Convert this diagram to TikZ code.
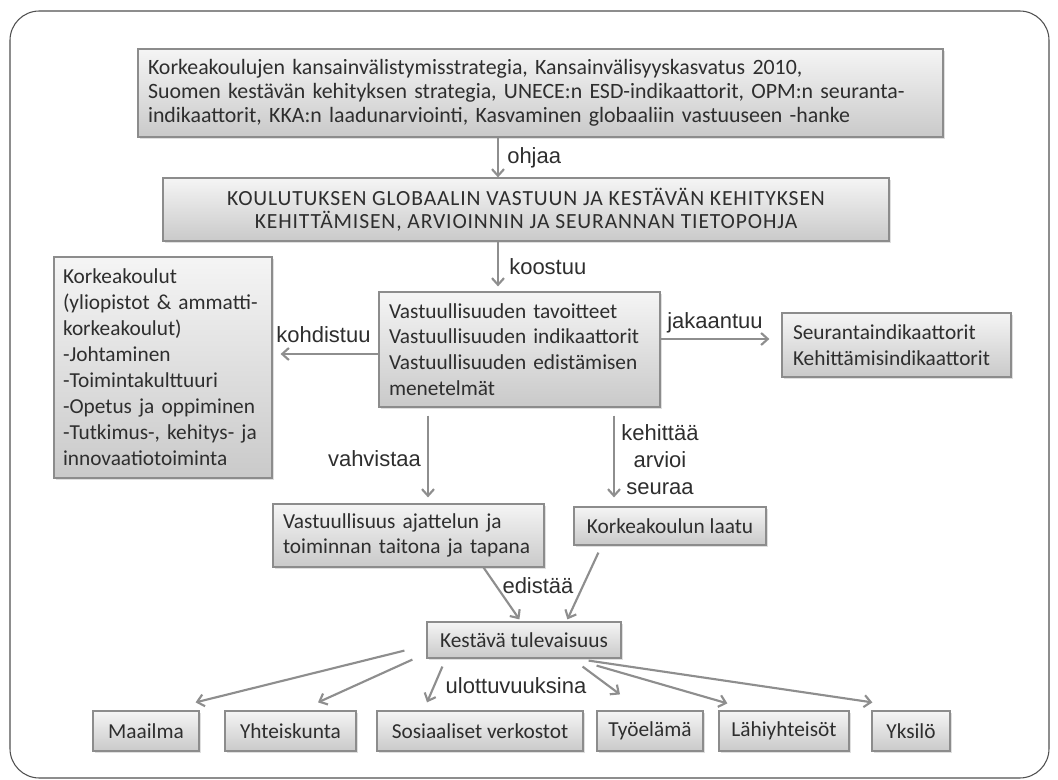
\documentclass[tikz,border=0pt]{standalone}
\usepackage{fontspec}
\setmainfont{Carlito}
\newfontfamily\labfont{Liberation Sans}
\newfontfamily\capsfont[LetterSpace=4]{Carlito}
\usetikzlibrary{arrows.meta,calc,shadows}
\definecolor{textc}{HTML}{2E2E2E}
\definecolor{boxline}{HTML}{8C8C8C}
\definecolor{arrc}{HTML}{8E8E8E}
\definecolor{framec}{HTML}{505050}
\begin{document}
\begin{tikzpicture}[x=0.75pt,y=-0.75pt,
  box/.style={draw=boxline, line width=0.9pt, top color=black!4, bottom color=black!21,
    drop shadow={shadow xshift=1.2pt,shadow yshift=-1.2pt,opacity=0.25},
    font=\fontsize{16}{19.3}\selectfont, text=textc, inner ysep=0pt},
  lbox/.style={box, align=left},
  cbox/.style={box, align=center, inner xsep=0pt},
  arr/.style={draw=arrc, line width=1.6pt, -{Straight Barb[length=5pt,width=9pt]}},
  lab/.style={font=\labfont\fontsize{16.5}{20.2}\selectfont, text=textc, inner sep=0pt}
]
\useasboundingbox (0,0) rectangle (1058,780);
\draw[framec, line width=0.8pt, rounded corners=22pt] (10,11) rectangle (1049,778);

% boxes
\node[lbox, text width=588.75pt, inner xsep=7.5pt, minimum height=66pt,
      font=\fontsize{16.4}{18.2}\selectfont] (top) at (540.5,93)
 {Korkeakoulujen kansainvälistymisstrategia, Kansainvälisyyskasvatus 2010,\\
  Suomen kestävän kehityksen strategia, UNECE:n ESD-indikaattorit, OPM:n seuranta-\\
  indikaattorit, KKA:n laadunarviointi, Kasvaminen globaaliin vastuuseen -hanke};
\node[cbox, minimum width=544.5pt, minimum height=47.25pt,
      font=\capsfont\fontsize{16.2}{17.6}\selectfont] (tieto) at (526,209.5)
 {KOULUTUKSEN GLOBAALIN VASTUUN JA KESTÄVÄN KEHITYKSEN\\
  KEHITTÄMISEN, ARVIOINNIN JA SEURANNAN TIETOPOHJA};
\node[lbox, text width=150pt, inner xsep=6.75pt, minimum height=165.75pt,
      font=\fontsize{16}{19.5}\selectfont] (korkea) at (163,367.5)
 {Korkeakoulut\\(yliopistot \& ammatti-\\korkeakoulut)\\-Johtaminen\\-Toimintakulttuuri\\-Opetus ja oppiminen\\-Tutkimus-, kehitys- ja\\innovaatiotoiminta};
\node[lbox, text width=195.75pt, inner xsep=7.5pt, minimum height=86.25pt] (vast) at (519.5,349.5)
 {Vastuullisuuden tavoitteet\\Vastuullisuuden indikaattorit\\Vastuullisuuden edistämisen\\menetelmät};
\node[lbox, text width=155.25pt, inner xsep=8.25pt, minimum height=48pt] (seur) at (896.5,345)
 {Seurantaindikaattorit\\Kehittämisindikaattorit};
\node[lbox, text width=188.25pt, inner xsep=7.5pt, minimum height=47.25pt] (vtaito) at (408.5,535.5)
 {Vastuullisuus ajattelun ja\\toiminnan taitona ja tapana};
\node[cbox, minimum width=144pt, minimum height=28.5pt] (laatu) at (670,526) {Korkeakoulun laatu};
\node[cbox, minimum width=145.5pt, minimum height=27pt] (kestava) at (524,640) {Kestävä tulevaisuus};
\node[cbox, minimum width=79.5pt, minimum height=30pt] (maailma) at (146,731) {Maailma};
\node[cbox, minimum width=98.25pt, minimum height=30pt] (yht) at (290.5,731) {Yhteiskunta};
\node[cbox, minimum width=154.5pt, minimum height=30pt] (sos) at (480,731) {Sosiaaliset verkostot};
\node[cbox, minimum width=79.5pt, minimum height=30pt] (tyo) at (650,731) {Työelämä};
\node[cbox, minimum width=97.5pt, minimum height=30pt] (lahi) at (784,731) {Lähiyhteisöt};
\node[cbox, minimum width=58.5pt, minimum height=30pt] (yks) at (911,731) {Yksilö};

% labels
\node[lab, anchor=west] (lohjaa) at (507,158) {ohjaa};
\node[lab, anchor=west] (lkoost) at (509,267) {koostuu};
\node[lab] (lkoh) at (323.5,335) {kohdistuu};
\node[lab] (ljak) at (715,323) {jakaantuu};
\node[lab] (lvah) at (374.5,459) {vahvistaa};
\node[lab, align=center] (lkeh) at (660,460) {kehittää\\arvioi\\seuraa};
\node[lab] (ledi) at (538,586) {edistää};
\node[lab] (lulo) at (516,686) {ulottuvuuksina};

% connectors
\coordinate (ax) at (498,0);
\coordinate (ky) at (0,354);
\coordinate (jy) at (0,339);
\coordinate (vx) at (428,0);
\coordinate (kx) at (614,0);
\draw[arr] (top.south -| ax) -- (tieto.north -| ax);
\draw[arr] (tieto.south -| ax) -- ($(vast.north -| ax)+(0,-5)$);
\draw[arr] (vast.west |- ky) -- ($(korkea.east |- ky)+(8,0)$);
\draw[arr] (vast.east |- jy) -- ($(seur.west |- jy)+(-12,0)$);
\draw[arr] ($(vast.south -| vx)+(0,8)$) -- ($(vtaito.north -| vx)+(0,-6)$);
\draw[arr] ($(vast.south -| kx)+(0,8)$) -- ($(laatu.north -| kx)+(0,-9)$);
\draw[arr] ($(vtaito.south east)+(-61,0)$) -- ($(kestava.north west)+(93,-2)$);
\draw[arr] ($(laatu.south west)+(25,7)$) -- ($(kestava.north west)+(141,-2)$);
\draw[arr] ($(kestava.south west)+(-22,-8)$) -- ($(maailma.north east)+(-4,-8)$);
\draw[arr] ($(kestava.south west)+(-14,1)$) -- ($(yht.north)+(27.5,-8)$);
\draw[arr] ($(kestava.south west)+(16,8)$) -- ($(sos.north)+(-53,-8)$);
\draw[arr] ($(kestava.south east)+(-39,8)$) -- ($(tyo.north)+(-30,-16)$);
\draw[arr] ($(kestava.south east)+(-25,7)$) -- ($(lahi.north west)+(9,-7)$);
\draw[arr] ($(kestava.south east)+(-33,2)$) -- ($(yks.north west)+(1,-8)$);
\end{tikzpicture}
\end{document}
